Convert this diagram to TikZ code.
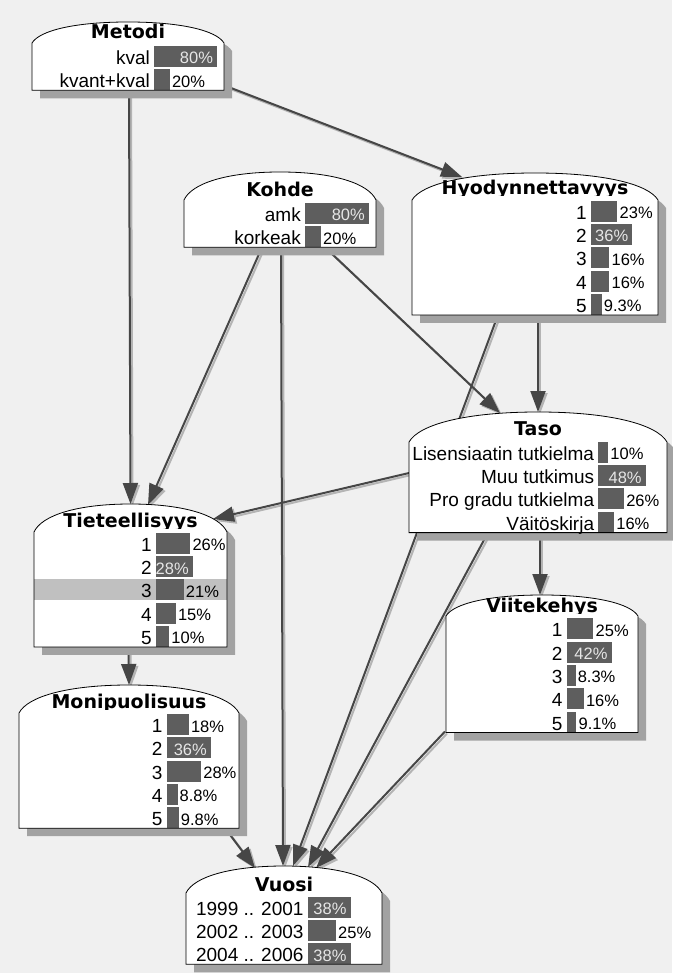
\documentclass[tikz,border=0pt]{standalone}
\usepackage{fontspec}
\setmainfont{Liberation Sans}
\newfontfamily\titlefont{DejaVu Sans}
\usetikzlibrary{arrows.meta}

\definecolor{bg}{HTML}{F0F0F0}
\definecolor{nodeshadow}{HTML}{A2A2A2}
\definecolor{barfill}{HTML}{5E5E5E}
\definecolor{edgecol}{HTML}{464646}
\definecolor{edgeshadow}{HTML}{B4B4B4}
\definecolor{rowhl}{HTML}{C0C0C0}
\definecolor{bartext}{HTML}{E6E6E6}

\tikzset{
  ttl/.style={font=\titlefont\bfseries\fontsize{19}{21}\selectfont, inner sep=0pt, anchor=base},
  lbl/.style={font=\fontsize{19}{21}\selectfont, inner sep=0pt, anchor=base east},
  pctin/.style={font=\fontsize{16.5}{18}\selectfont, inner sep=0pt, anchor=base east, text=bartext},
  pctout/.style={font=\fontsize{16.5}{18}\selectfont, inner sep=0pt, anchor=base west},
  edgeline/.style={draw=edgecol, fill=edgecol, line width=2pt, -{Triangle[length=21pt,width=15pt]}},
  edgeshade/.style={draw=edgeshadow, fill=edgeshadow, line width=2pt, -{Triangle[length=21pt,width=15pt]}},
  boxline/.style={draw=black, line width=0.8pt},
}

% invisible named rectangle spanning a box: name, L, R, top, bottom
\newcommand\boxanchor[5]{%
  \node[inner sep=0pt, outer sep=0pt, minimum width={(#3-#2)*1pt},
        minimum height={(#5-#4)*1pt}] (#1) at ({(#2+#3)/2},{(#4+#5)/2}) {};}

% arched box outline: options, L, R, top, corner, bottom
\newcommand\archshape[6]{%
  \path[#1] (#2,#6) -- (#2,#5)
    .. controls ({#2+0.04*(#3-#2)},{#5-0.6*(#5-#4)}) and ({#2+0.225*(#3-#2)},#4) .. ({(#2+#3)/2},#4)
    .. controls ({#3-0.225*(#3-#2)},#4) and ({#3-0.04*(#3-#2)},{#5-0.6*(#5-#4)}) .. (#3,#5)
    -- (#3,#6) -- cycle;}

% shadow and white body: L, R, top, corner, bottom
\newcommand\boxbody[5]{%
  \begin{scope}[shift={(8,8)}]
    \archshape{fill=nodeshadow}{#1}{#2}{#3}{#4}{#5}
  \end{scope}
  \archshape{fill=white}{#1}{#2}{#3}{#4}{#5}}

% title, cut off just below its baseline: L, R, top, baseline, text
\newcommand\boxtitle[5]{%
  \begin{scope}
    \clip (#1,{#3-6}) rectangle (#2,{#4+1.2});
    \node[ttl] at ({(#1+#2)/2},#4) {#5};
  \end{scope}}

% one state row: barX, row top, label, percent, px per percent, percent text, 1 = text inside bar
\newcommand\prow[7]{%
  \fill[barfill] (#1,#2) rectangle ({#1+#4*#5},{#2+21});
  \node[lbl] at ({#1-4},{#2+18.5}) {#3};
  \ifnum#7=1 \node[pctin] at ({#1+#4*#5-4},{#2+18}) {#6};%
  \else \node[pctout] at ({#1+#4*#5+2},{#2+18}) {#6};\fi}

% one connector: style, source, dx, dy, target, dx, dy
\newcommand\edge[7]{\draw[#1] ([shift={(#3,#4)}]#2) -- ([shift={(#6,#7)}]#5);}

\newcommand\alledges[1]{%
  \edge{#1}{metodi.south}{1}{0}{tiet.north}{0}{0}
  \edge{#1}{metodi.south east}{0}{-5}{hyod.north}{-73}{4}
  \edge{#1}{kohde.south}{-18}{0}{tiet.north}{17.5}{1}
  \edge{#1}{kohde.south}{1}{0}{vuosi.north}{-1}{0}
  \edge{#1}{kohde.south}{45}{0}{taso.north}{-38}{1}
  \edge{#1}{hyod.south}{3}{0}{taso.north}{0}{0}
  \edge{#1}{hyod.south}{-37}{0}{vuosi.north}{9}{0}
  \edge{#1}{taso.north west}{0}{61}{tiet.north east}{-14}{15}
  \edge{#1}{taso.south}{2}{0}{viite.north}{-2}{0}
  \edge{#1}{taso.south}{-50}{0}{vuosi.north}{24}{1}
  \edge{#1}{tiet.south}{-2}{0}{moni.north}{0}{0}
  \edge{#1}{moni.south east}{-14}{0}{vuosi.north}{-29}{2}
  \edge{#1}{viite.south west}{-1}{-1}{vuosi.north}{32}{2}}

\begin{document}
\begin{tikzpicture}[x=1pt,y=-1pt]
\useasboundingbox (0,0) rectangle (672,973);
\fill[bg] (0,0) rectangle (672,973);

% named boxes
\boxanchor{metodi}{32}{224}{22}{90.3}
\boxanchor{kohde}{184}{376}{172}{247.3}
\boxanchor{hyod}{412}{658}{173}{314.9}
\boxanchor{taso}{409}{667}{412}{532.6}
\boxanchor{tiet}{34}{227}{504}{646.9}
\boxanchor{viite}{446}{638}{595}{732.5}
\boxanchor{moni}{19}{239}{685}{828.2}
\boxanchor{vuosi}{186}{382}{866}{964.3}

% connectors with their shadows
\begin{scope}[transform canvas={xshift=2pt,yshift=-2pt}]
  \alledges{edgeshade}
\end{scope}
\alledges{edgeline}

% Metodi
\boxbody{32}{224}{22}{43}{90.3}
\boxtitle{32}{224}{22}{39}{Metodi}
\prow{154}{46}{kval}{80}{0.79}{80\%}{1}
\prow{154}{69.3}{kvant+kval}{20}{0.79}{20\%}{0}
\archshape{boxline}{32}{224}{22}{43}{90.3}

% Kohde
\boxbody{184}{376}{172}{200}{247.3}
\boxtitle{184}{376}{172}{197}{Kohde}
\prow{305}{203}{amk}{80}{0.8}{80\%}{1}
\prow{305}{226.3}{korkeak}{20}{0.8}{20\%}{0}
\archshape{boxline}{184}{376}{172}{200}{247.3}

% Hyodynnettavyys
\boxbody{412}{658}{173}{200}{314.9}
\boxtitle{412}{658}{173}{194.5}{Hyodynnettavyys}
\prow{591}{200.7}{1}{23}{1.15}{23\%}{0}
\prow{591}{224.0}{2}{36}{1.15}{36\%}{1}
\prow{591}{247.3}{3}{16}{1.15}{16\%}{0}
\prow{591}{270.6}{4}{16}{1.15}{16\%}{0}
\prow{591}{293.9}{5}{9.3}{1.15}{9.3\%}{0}
\archshape{boxline}{412}{658}{173}{200}{314.9}

% Taso
\boxbody{409}{667}{412}{442}{532.6}
\boxtitle{409}{667}{412}{435}{Taso}
\prow{598.3}{441.7}{Lisensiaatin tutkielma}{10}{0.99}{10\%}{0}
\prow{598.3}{465.0}{Muu tutkimus}{48}{0.99}{48\%}{1}
\prow{598.3}{488.3}{Pro gradu tutkielma}{26}{0.99}{26\%}{0}
\prow{598.3}{511.6}{Väitöskirja}{16}{0.99}{16\%}{0}
\archshape{boxline}{409}{667}{412}{442}{532.6}

% Tieteellisyys
\boxbody{34}{227}{504}{532}{646.9}
\fill[rowhl] (34,579.3) rectangle (227,600.3);
\boxtitle{34}{227}{504}{527}{Tieteellisyys}
\prow{156}{532.7}{1}{26}{1.32}{26\%}{0}
\prow{156}{556.0}{2}{28}{1.32}{28\%}{1}
\prow{156}{579.3}{3}{21}{1.32}{21\%}{0}
\prow{156}{602.6}{4}{15}{1.32}{15\%}{0}
\prow{156}{625.9}{5}{10}{1.32}{10\%}{0}
\archshape{boxline}{34}{227}{504}{532}{646.9}

% Viitekehys
\boxbody{446}{638}{595}{616}{732.5}
\boxtitle{446}{638}{595}{612.5}{Viitekehys}
\prow{566.7}{618.3}{1}{25}{1.07}{25\%}{0}
\prow{566.7}{641.6}{2}{42}{1.07}{42\%}{1}
\prow{566.7}{664.9}{3}{8.3}{1.07}{8.3\%}{0}
\prow{566.7}{688.2}{4}{16}{1.07}{16\%}{0}
\prow{566.7}{711.5}{5}{9.1}{1.07}{9.1\%}{0}
\archshape{boxline}{446}{638}{595}{616}{732.5}

% Monipuolisuus
\boxbody{19}{239}{685}{713}{828.2}
\boxtitle{19}{239}{685}{708.5}{Monipuolisuus}
\prow{166.7}{714.0}{1}{18}{1.23}{18\%}{0}
\prow{166.7}{737.3}{2}{36}{1.23}{36\%}{1}
\prow{166.7}{760.6}{3}{28}{1.23}{28\%}{0}
\prow{166.7}{783.9}{4}{8.8}{1.23}{8.8\%}{0}
\prow{166.7}{807.2}{5}{9.8}{1.23}{9.8\%}{0}
\archshape{boxline}{19}{239}{685}{713}{828.2}

% Vuosi
\boxbody{186}{382}{866}{893}{964.3}
\boxtitle{186}{382}{866}{891}{Vuosi}
\prow{307.7}{896.7}{1999 .. 2001}{38}{1.13}{38\%}{1}
\prow{307.7}{920.0}{2002 .. 2003}{25}{1.13}{25\%}{0}
\prow{307.7}{943.3}{2004 .. 2006}{38}{1.13}{38\%}{1}
\archshape{boxline}{186}{382}{866}{893}{964.3}
\end{tikzpicture}
\end{document}
